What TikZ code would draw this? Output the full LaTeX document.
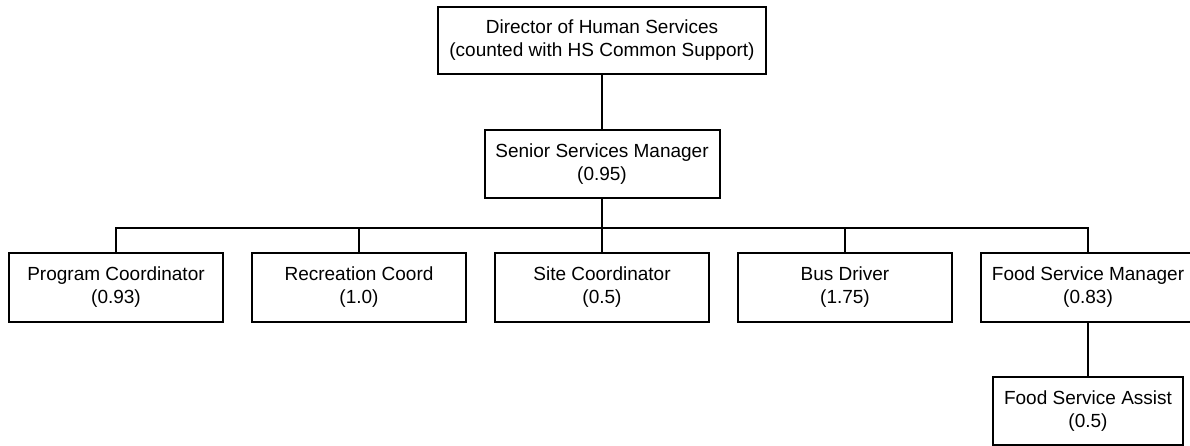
\documentclass[tikz,border=0pt]{standalone}
\usepackage{fontspec}
\setmainfont{Liberation Sans}
\usetikzlibrary{trees}
\tikzstyle{every node}=[draw=black,line width=2pt,align=center,inner sep=2pt,minimum height=68pt,font=\fontsize{19}{23}\selectfont]
\tikzstyle{post}=[minimum width=214pt,minimum height=69pt]

\begin{document}
\begin{tikzpicture}[%
        x=1pt,y=1pt,line width=2pt,
        level distance=123.5pt,
        level 2/.style={sibling distance=243pt},
        edge from parent path={(\tikzparentnode.south) -- ++(0,-29pt) -| (\tikzchildnode.north)}]
    \useasboundingbox (0,0) rectangle (1190,-445);
    \node[minimum width=328pt,minimum height=67pt] (director) at (602,-40.5)
        {Director of Human Services\\(counted with HS Common Support)}
    child{node[minimum width=235pt] (manager) {Senior Services Manager\\(0.95)}
        child{node[post] (program) {Program Coordinator\\(0.93)}}
        child{node[post] (recreation) {Recreation Coord\\(1.0)}}
        child{node[post] (site) {Site Coordinator\\(0.5)}}
        child{node[post] (bus) {Bus Driver\\(1.75)}}
        child{node[post] (food) {Food Service Manager\\(0.83)}
            child{node[minimum width=190pt] (assist) {Food Service Assist\\(0.5)}}
        }
    }
    ;
\end{tikzpicture}
\end{document}
